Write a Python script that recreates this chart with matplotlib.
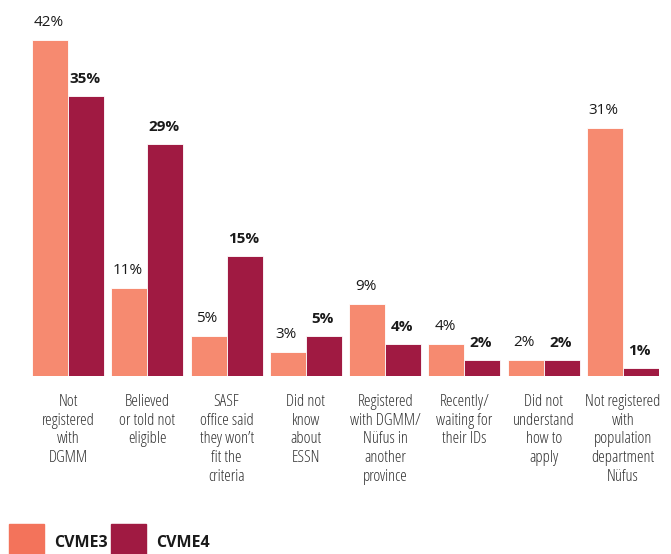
import numpy as np
import matplotlib.pyplot as plt
from matplotlib.patches import Rectangle

categories = ['Not\nregistered\nwith\nDGMM',
              'Believed\nor told not\neligible',
              'SASF\noffice said\nthey won\u2019t\nfit the\ncriteria',
              'Did not\nknow\nabout\nESSN',
              'Registered\nwith DGMM/\nN\u00fcfus in\nanother\nprovince',
              'Recently/\nwaiting for\ntheir IDs',
              'Did not\nunderstand\nhow to\napply',
              'Not registered\nwith\npopulation\ndepartment\nN\u00fcfus']
cvme3 = [42, 11, 5, 3, 9, 4, 2, 31]
cvme4 = [35, 29, 15, 5, 4, 2, 2, 1]
series_names = ['CVME3', 'CVME4']

c3 = '#F68A70'
c4 = '#A01A42'

plt.rcParams['font.family'] = ['Open Sans', 'DejaVu Sans']

fig = plt.figure(figsize=(6.71, 5.54), dpi=100)
W, H = 671, 554
ax = fig.add_axes([32 / W, (H - 376) / H, 627 / W, 360 / H])

x = np.arange(len(categories))
w = 0.455
b3 = ax.bar(x - w / 2, cvme3, w, color=c3, edgecolor='white', linewidth=0.6)
b4 = ax.bar(x + w / 2, cvme4, w, color=c4, edgecolor='white', linewidth=0.6)

for rect, v in zip(b3, cvme3):
    ax.annotate(f'{v}%', (rect.get_x() + rect.get_width() / 2, v),
                xytext=(-1, 7.5), textcoords='offset points',
                ha='center', va='bottom', fontsize=11, color='#1a1a1a')
for rect, v in zip(b4, cvme4):
    ax.annotate(f'{v}%', (rect.get_x() + rect.get_width() / 2, v),
                xytext=(-1, 7.5), textcoords='offset points',
                ha='center', va='bottom', fontsize=11, fontweight='bold',
                color='#1a1a1a')

ax.set_xlim(-w, len(categories) - 1 + w)
ax.set_ylim(0, 45)
ax.set_xticks(x)
ax.set_xticklabels(categories, fontsize=12, color='#333333',
                   fontstretch='condensed', fontweight=300,
                   linespacing=1.22)
ax.tick_params(axis='x', length=0, pad=13)
ax.set_yticks([])
for s in ax.spines.values():
    s.set_visible(False)

# legend swatches along the bottom edge
leg_colors = ['#F3735B', c4]
leg_x = [9, 111]
for name, col, lx in zip(series_names, leg_colors, leg_x):
    fig.patches.append(Rectangle((lx / W, 0), 35 / W, 30 / H,
                                 transform=fig.transFigure, color=col))
    fig.text((lx + 45) / W, (H - 543) / H, name, fontsize=11.5,
             fontweight='bold', fontstretch='condensed', color='#1a1a1a',
             va='center')

fig.savefig('out.png', dpi=100)
